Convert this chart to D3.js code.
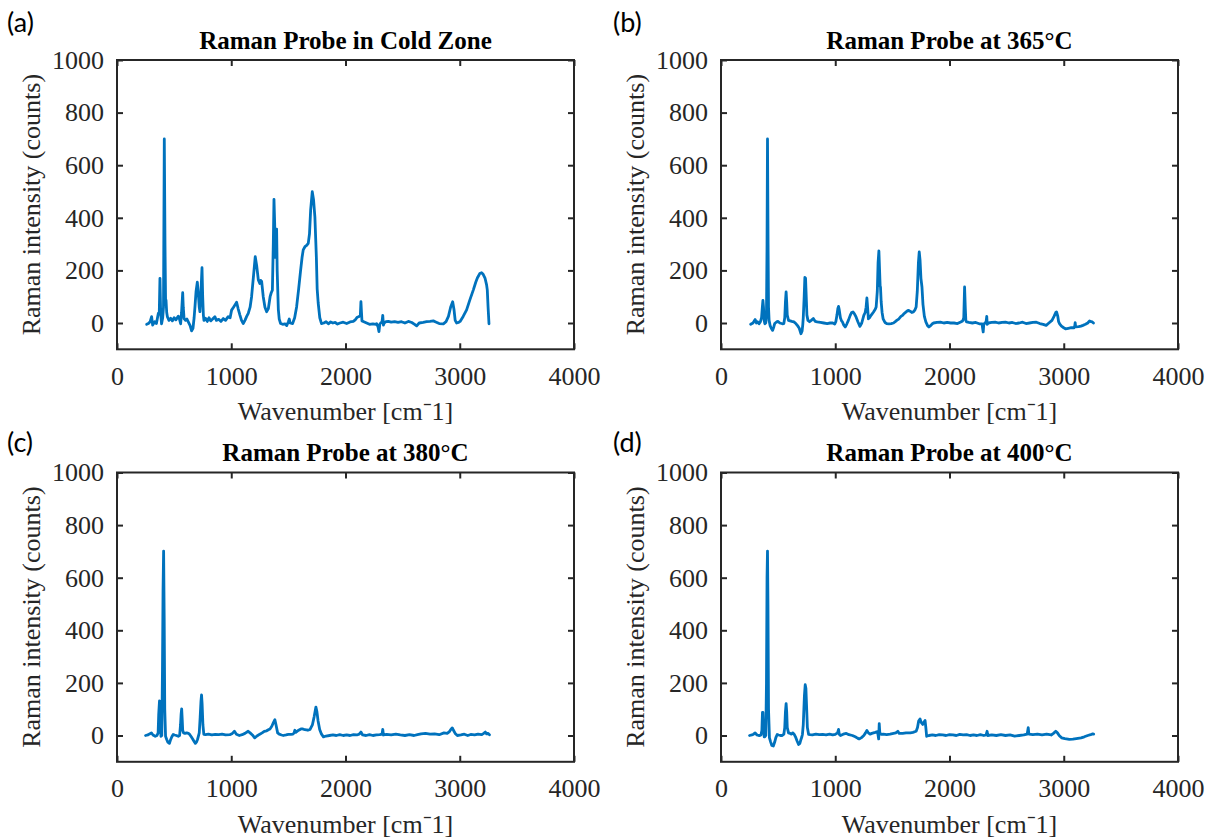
<!DOCTYPE html>
<html>
<head>
<meta charset="utf-8">
<script src="https://cdn.jsdelivr.net/npm/d3@7"></script>
<style>
  html, body { margin: 0; padding: 0; background: #fff; }
  svg { display: block; }
  .serif { font-family: "Liberation Serif", "Times New Roman", serif; }
</style>
</head>
<body>
<svg id="chart" width="1208" height="840"></svg>
<script>
// ---------- DATA ----------
const panelLetters = ["(a)", "(b)", "(c)", "(d)"];
const panelTitles = ["Raman Probe in Cold Zone", "Raman Probe at 365°C", "Raman Probe at 380°C", "Raman Probe at 400°C"];
const xTickValues = [0, 1000, 2000, 3000, 4000];
const yTickValues = [0, 200, 400, 600, 800, 1000];
const xLabel = "Wavenumber [cm\u207B1]";
const yLabel = "Raman intensity (counts)";

const waveA = [260,275,290,303,312,330,345,362,370,376,382,390,400,407,414,420,425,429,435,441,455,470,485,500,515,537,547,557,565,575,580,587,600,612,624,640,653,665,675,683,692,703,712,720,726,735,744,750,756,761,775,790,805,820,835,857,870,890,910,930,950,973,990,1003,1020,1035,1047,1060,1076,1090,1105,1120,1135,1149,1165,1178,1195,1210,1222,1237,1250,1258,1266,1280,1295,1310,1325,1340,1350,1360,1368,1374,1380,1386,1392,1397,1402,1412,1420,1432,1450,1470,1485,1500,1508,1515,1537,1555,1572,1590,1607,1620,1630,1645,1660,1674,1685,1695,1709,1720,1732,1745,1752,1761,1775,1790,1810,1830,1850,1870,1890,1910,1930,1952,1980,2010,2040,2068,2085,2103,2120,2130,2135,2140,2144,2160,2185,2210,2240,2265,2273,2285,2293,2300,2308,2320,2326,2332,2338,2355,2375,2400,2430,2460,2490,2520,2550,2580,2605,2623,2645,2680,2710,2740,2769,2790,2820,2857,2880,2901,2920,2938,2950,2960,2973,2990,3003,3030,3060,3090,3119,3140,3154,3175,3191,3205,3221,3235,3241,3248,3256];
const intensityA = [-5,-2,5,24,-8,5,-2,37,40,170,40,-3,20,60,700,300,90,87,40,24,10,18,8,20,12,26,15,-3,40,115,60,17,10,15,4,-10,-30,-20,20,65,120,155,110,60,43,120,210,100,30,10,18,6,20,8,14,24,10,14,6,17,10,24,20,49,60,70,79,55,30,10,-2,10,25,37,60,100,180,252,220,164,150,162,158,100,60,43,55,100,115,125,300,470,380,250,300,357,200,52,15,-2,-5,-3,-10,5,15,0,-2,20,61,130,200,250,278,290,295,303,340,430,499,470,404,250,130,76,20,-2,0,5,-3,4,0,2,-4,0,3,-2,4,6,12,22,25,30,81,40,8,5,0,-5,-3,-5,-3,-15,-33,-5,0,5,29,-8,0,5,6,3,5,2,5,0,6,2,-5,-11,0,2,5,6,8,4,-2,-3,5,25,60,81,50,10,0,2,6,25,50,90,126,155,171,188,191,185,171,145,126,60,-3];

const waveB = [260,280,299,310,320,333,345,355,362,367,372,378,384,392,398,403,407,412,416,421,430,440,452,462,470,486,500,515,537,550,558,564,570,575,580,591,605,620,638,655,670,685,700,710,716,720,728,734,740,746,752,761,775,790,808,825,842,870,900,930,955,978,995,1005,1015,1023,1029,1035,1045,1055,1063,1075,1087,1100,1115,1131,1143,1155,1168,1182,1198,1216,1232,1250,1262,1270,1277,1283,1290,1300,1315,1335,1350,1358,1368,1375,1382,1388,1393,1396,1402,1410,1419,1435,1450,1470,1490,1510,1525,1538,1555,1575,1589,1600,1615,1630,1640,1655,1670,1684,1698,1708,1718,1728,1735,1742,1750,1759,1768,1780,1793,1808,1820,1835,1850,1861,1890,1920,1950,1980,2010,2040,2070,2098,2115,2125,2132,2138,2143,2149,2170,2200,2230,2260,2285,2290,2295,2300,2310,2320,2326,2330,2340,2370,2400,2430,2460,2490,2520,2550,2580,2610,2640,2670,2700,2730,2760,2790,2820,2846,2870,2897,2915,2930,2937,2948,2955,2964,2980,3000,3015,3040,3065,3090,3096,3100,3104,3130,3150,3168,3190,3210,3226,3240,3250,3260];
const intensityB = [-5,0,13,0,5,-3,5,20,60,86,60,10,-3,0,30,300,700,300,60,10,-10,-20,-28,-15,-2,4,6,0,-3,-2,20,80,118,80,30,10,8,6,4,-2,-10,-20,-41,-30,-5,20,100,173,170,100,30,10,5,10,17,6,4,2,0,-2,0,0,-4,5,30,55,63,50,20,8,4,-8,-15,-5,10,29,40,42,35,23,5,-13,0,29,40,60,95,60,16,20,30,42,52,61,120,230,274,200,140,137,80,40,16,2,-2,-3,-2,0,5,10,15,25,29,35,40,46,48,45,40,42,50,61,120,230,270,240,170,137,70,25,4,-10,-15,-10,-3,0,2,3,0,2,0,0,-2,4,8,20,137,60,10,4,2,0,2,-3,-3,-20,-34,-5,0,3,25,-5,0,2,3,0,2,3,0,2,-2,0,3,-2,0,2,3,-2,-5,-9,0,10,25,40,42,25,5,-3,-12,-18,-22,-20,-18,-18,-12,1,-15,-14,-12,-9,-5,0,8,5,4,0];

const waveC = [250,270,285,301,315,335,350,360,365,372,378,385,392,398,403,408,413,418,425,435,445,459,470,480,492,505,520,536,548,556,561,566,571,575,582,595,610,625,636,650,665,678,686,695,705,712,720,728,735,740,745,752,760,775,800,830,860,890,920,950,987,1010,1028,1045,1071,1095,1120,1148,1165,1185,1205,1225,1250,1270,1289,1310,1325,1339,1355,1370,1382,1392,1406,1420,1440,1456,1480,1500,1523,1540,1550,1557,1565,1590,1610,1623,1645,1670,1690,1710,1725,1741,1750,1760,1774,1790,1807,1830,1860,1890,1920,1950,1980,2010,2040,2070,2100,2120,2135,2150,2180,2210,2240,2270,2300,2320,2326,2332,2360,2400,2440,2480,2520,2560,2600,2630,2661,2700,2740,2780,2820,2862,2890,2910,2925,2935,2945,2960,2979,3010,3040,3070,3096,3130,3160,3190,3210,3224,3235,3247,3260];
const intensityC = [0,2,6,10,2,-3,0,10,80,132,40,-3,0,250,550,701,450,100,-3,-15,-25,-30,-15,-5,4,2,0,-3,0,40,80,101,60,20,10,8,10,8,4,-5,-15,-25,-30,-25,-15,-3,10,70,130,154,120,40,4,3,5,2,4,3,5,2,3,8,16,5,0,3,8,16,10,2,-9,-2,5,10,16,18,22,25,35,50,60,40,10,5,2,0,2,4,4,5,10,20,12,20,25,25,22,20,23,40,70,108,90,55,23,5,-5,-2,0,2,0,3,0,2,0,3,2,5,13,2,0,3,0,2,3,5,23,2,4,2,5,2,0,3,0,3,6,8,5,6,3,10,8,15,25,29,20,8,0,2,5,0,4,2,5,3,8,13,6,8,3];

const waveD = [250,270,285,299,315,330,340,350,358,363,367,372,378,384,392,398,403,407,411,416,424,435,445,458,470,480,492,505,520,536,550,558,564,570,575,580,591,605,615,628,640,652,665,679,690,700,708,713,720,730,737,743,750,756,767,780,800,830,860,890,920,950,978,1000,1020,1029,1035,1046,1070,1097,1120,1150,1175,1195,1209,1230,1250,1265,1277,1290,1305,1320,1335,1350,1370,1380,1385,1390,1402,1420,1450,1480,1510,1530,1548,1560,1590,1620,1657,1680,1708,1720,1730,1742,1752,1766,1775,1786,1793,1800,1820,1850,1880,1910,1940,1970,2000,2030,2060,2090,2120,2150,2180,2210,2240,2270,2300,2320,2329,2335,2370,2410,2450,2490,2530,2570,2610,2650,2680,2689,2695,2730,2770,2810,2850,2890,2910,2930,2945,2960,2981,3010,3049,3080,3110,3151,3180,3210,3235,3253,3262];
const intensityD = [0,2,5,10,2,0,0,2,20,88,88,30,-5,-5,0,200,600,701,500,100,-9,-25,-38,-40,-25,-8,4,2,0,0,5,30,90,121,90,30,10,8,5,10,5,-5,-20,-34,-30,-15,-5,5,40,150,193,180,100,30,4,3,2,5,3,4,2,5,2,4,10,23,5,0,5,8,3,0,-5,-10,-13,-8,0,10,19,10,5,8,10,12,15,-13,45,10,4,5,3,5,8,10,16,8,8,10,10,12,16,30,55,63,50,42,50,57,30,-3,0,2,0,3,2,0,3,2,0,4,2,3,0,2,0,3,0,2,16,0,2,0,3,0,2,-2,0,2,5,30,5,3,5,2,5,2,8,16,10,0,-9,-12,-15,-14,-12,-9,-5,0,3,6,5];

const spectra = [
  [waveA, intensityA],
  [waveB, intensityB],
  [waveC, intensityC],
  [waveD, intensityD]
];

// ---------- LAYOUT ----------
const plotW = 457, plotH = 289.3;
const panelPos = [
  {left: 117, top: 60},
  {left: 721, top: 60},
  {left: 117, top: 472.5},
  {left: 721, top: 472.5}
];
const letterPos = [
  {x: 7, y: 32},
  {x: 613, y: 32},
  {x: 7, y: 452},
  {x: 613, y: 452}
];

const axisColor = "#262626";
const lineColor = "#0072BD";
const serif = "Liberation Serif";

const svg = d3.select("#chart");

spectra.forEach((s, i) => {
  const p = panelPos[i];
  const g = svg.append("g").attr("transform", `translate(${p.left},${p.top})`);

  const x = d3.scaleLinear().domain([0, 4000]).range([0, plotW]);
  const y = d3.scaleLinear().domain([-100, 1000]).range([plotH, 0]);

  const gx = g.append("g").attr("transform", `translate(0,${plotH})`)
    .call(d3.axisBottom(x).tickValues(xTickValues).tickSize(-6).tickPadding(17).tickFormat(d3.format("d")));
  const gy = g.append("g")
    .call(d3.axisLeft(y).tickValues(yTickValues).tickSize(-6).tickPadding(13).tickFormat(d3.format("d")));
  const gt = g.append("g").call(d3.axisTop(x).tickValues(xTickValues).tickSize(-6).tickFormat(""));
  const gr = g.append("g").attr("transform", `translate(${plotW},0)`)
    .call(d3.axisRight(y).tickValues(yTickValues).tickSize(-6).tickFormat(""));

  [gx, gy, gt, gr].forEach(a => {
    a.attr("font-family", serif).attr("font-size", 26);
    a.select(".domain").remove();
    a.selectAll(".tick line").attr("stroke", axisColor).attr("stroke-width", 2);
    a.selectAll(".tick text")
      .attr("fill", axisColor)
      .attr("font-family", serif)
      .attr("font-size", 26);
  });

  g.append("rect")
    .attr("x", 0).attr("y", 0).attr("width", plotW).attr("height", plotH)
    .attr("fill", "none").attr("stroke", axisColor).attr("stroke-width", 2);

  const pts = s[0].map((w, k) => [w, s[1][k]]);
  const line = d3.line().x(d => x(d[0])).y(d => y(d[1]));
  g.append("path")
    .datum(pts)
    .attr("d", line)
    .attr("fill", "none")
    .attr("stroke", lineColor)
    .attr("stroke-width", 2.8)
    .attr("stroke-linejoin", "round")
    .attr("stroke-linecap", "round");

  g.append("text")
    .attr("x", plotW / 2).attr("y", -11.5)
    .attr("text-anchor", "middle")
    .attr("font-family", serif)
    .attr("font-weight", "bold")
    .attr("font-size", 25)
    .attr("fill", "#000")
    .text(panelTitles[i]);

  g.append("text")
    .attr("x", plotW / 2).attr("y", plotH + 71)
    .attr("text-anchor", "middle")
    .attr("font-family", serif)
    .attr("font-size", 26)
    .attr("fill", axisColor)
    .text(xLabel);

  g.append("text")
    .attr("transform", `translate(-77,${plotH / 2}) rotate(-90)`)
    .attr("text-anchor", "middle")
    .attr("font-family", serif)
    .attr("font-size", 26)
    .attr("fill", axisColor)
    .text(yLabel);

  svg.append("text")
    .attr("x", letterPos[i].x).attr("y", letterPos[i].y)
    .attr("font-family", "Lato")
    .attr("font-size", 27)
    .attr("fill", "#000")
    .text(panelLetters[i]);
});
</script>
</body>
</html>
